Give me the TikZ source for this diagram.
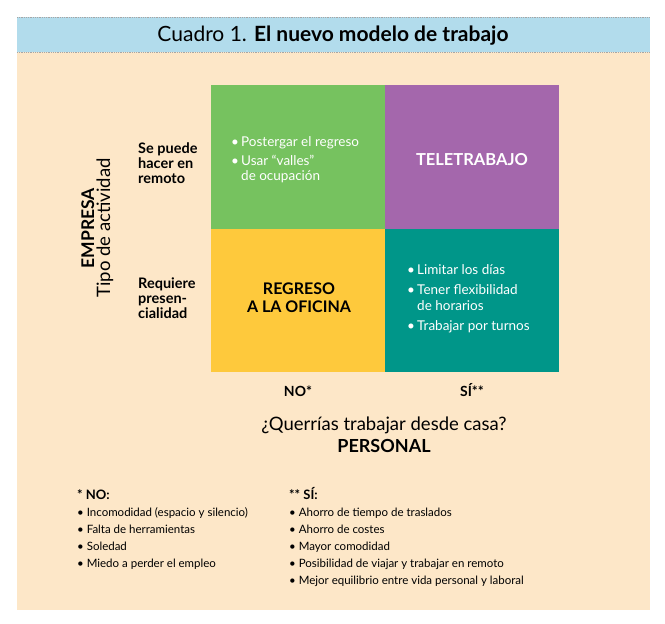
\documentclass[tikz,border=0pt]{standalone}
\usepackage{fontspec}
\setmainfont{Lato}
\definecolor{cband}{HTML}{B2DCEC}
\definecolor{cbg}{HTML}{FDE7C8}
\definecolor{cgreen}{HTML}{76C25F}
\definecolor{cpurple}{HTML}{A467AC}
\definecolor{cyellow}{HTML}{FEC93C}
\definecolor{cteal}{HTML}{009689}
\tikzset{
  cell/.style={draw=none, inner sep=0pt, anchor=north west, minimum width=174pt},
  celltxt/.style={anchor=base west, inner sep=0pt, text=white, font=\fontsize{13.5}{15}\selectfont},
  sidelbl/.style={anchor=base west, inner sep=0pt, font=\fontsize{14.5}{16}\selectfont\bfseries},
  foot/.style={anchor=base west, inner sep=0pt, font=\fontsize{11.5}{13}\selectfont},
  foothead/.style={anchor=base west, inner sep=0pt, font=\fontsize{13}{15}\selectfont\bfseries},
}
\begin{document}
\begin{tikzpicture}[x=1pt,y=-1pt]
\useasboundingbox (0,0) rectangle (665,624);
\fill[cbg] (17,52) rectangle (650,610);
\fill[cband] (17,17) rectangle (650,52);
\draw[gray!70, densely dotted, line width=0.8pt] (17,17) -- (650,17) (17,52) -- (650,52);
\node[anchor=base, inner sep=0pt] (title) at (333,41) {\fontsize{21}{23}\selectfont Cuadro 1. \textbf{El nuevo modelo de trabajo}};
% cells
\node[cell, fill=cgreen, minimum height=144pt] (tl) at (211,85) {};
\node[cell, fill=cpurple, minimum height=144pt] (tr) at (385,85) {};
\node[cell, fill=cyellow, minimum height=143pt] (bl) at (211,229) {};
\node[cell, fill=cteal, minimum height=143pt] (br) at (385,229) {};
% green text
\node[celltxt] (g1b) at (231,146) {•};
\node[celltxt] (g1) at (241,146) {Postergar el regreso};
\node[celltxt] (g2b) at (231,165) {•};
\node[celltxt] (g2) at (241,165) {Usar “valles”};
\node[celltxt] (g3) at (241,180) {de ocupación};
% purple
\node[anchor=base, inner sep=0pt, text=white, font=\fontsize{16.5}{18}\selectfont\bfseries] (tele) at (472,165) {TELETRABAJO};
% yellow
\node[anchor=base, inner sep=0pt, font=\fontsize{16}{18}\selectfont\bfseries] (reg1) at (299,294) {REGRESO};
\node[anchor=base, inner sep=0pt, font=\fontsize{16}{18}\selectfont\bfseries] (reg2) at (299,312) {A LA OFICINA};
% teal
\node[celltxt] (t1b) at (407,274) {•};
\node[celltxt] (t1) at (417,274) {Limitar los días};
\node[celltxt] (t2b) at (407,294) {•};
\node[celltxt] (t2) at (417,294) {Tener flexibilidad};
\node[celltxt] (t3) at (417,310) {de horarios};
\node[celltxt] (t4b) at (407,330) {•};
\node[celltxt] (t4) at (417,330) {Trabajar por turnos};
% side labels
\node[sidelbl] (s1) at (138,153) {Se puede};
\node[sidelbl] (s2) at (138,168) {hacer en};
\node[sidelbl] (s3) at (138,183) {remoto};
\node[sidelbl] (r1) at (138,288) {Requiere};
\node[sidelbl] (r2) at (138,303) {presen-};
\node[sidelbl] (r3) at (138,318) {cialidad};
\node[anchor=base, rotate=90, inner sep=0pt, font=\fontsize{17.5}{19}\selectfont\bfseries] (emp) at (94,228) {EMPRESA};
\node[anchor=base, rotate=90, inner sep=0pt, font=\fontsize{18.5}{20}\selectfont] (tipo) at (110,228) {Tipo de actividad};
% bottom axis
\node[anchor=base, inner sep=0pt, font=\fontsize{14}{16}\selectfont\bfseries] (no) at (298,396) {NO*};
\node[anchor=base, inner sep=0pt, font=\fontsize{14}{16}\selectfont\bfseries] (si) at (472,396) {SÍ**};
\node[anchor=base, inner sep=0pt, font=\fontsize{18.5}{20}\selectfont] (q) at (384,430) {¿Querrías trabajar desde casa?};
\node[anchor=base, inner sep=0pt, font=\fontsize{18}{20}\selectfont\bfseries] (pers) at (384,452) {PERSONAL};
% footnotes
\node[foothead] (nh) at (77,499) {* NO:};
\node[foot] (n1) at (77,516) {• Incomodidad (espacio y silencio)};
\node[foot] (n2) at (77,533) {• Falta de herramientas};
\node[foot] (n3) at (77,550) {• Soledad};
\node[foot] (n4) at (77,567) {• Miedo a perder el empleo};
\node[foothead] (sh) at (289,499) {** SÍ:};
\node[foot] (p1) at (289,516) {• Ahorro de tiempo de traslados};
\node[foot] (p2) at (289,533) {• Ahorro de costes};
\node[foot] (p3) at (289,550) {• Mayor comodidad};
\node[foot] (p4) at (289,567) {• Posibilidad de viajar y trabajar en remoto};
\node[foot] (p5) at (289,584) {• Mejor equilibrio entre vida personal y laboral};
\end{tikzpicture}
\end{document}
